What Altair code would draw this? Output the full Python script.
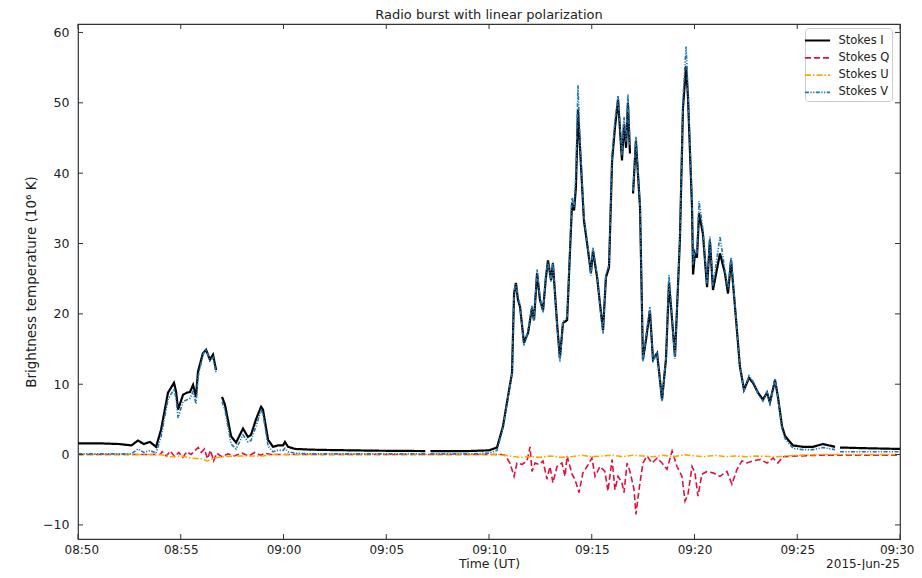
import altair as alt
import pandas as pd

# ---- data (minutes after 08:50 UT, brightness temperature in 10^6 K) ----
t_iv = [0.0, 1.0, 2.0, 2.6, 2.92, 3.2, 3.5, 3.8, 4.04, 4.2, 4.38, 4.67, 4.77, 4.87,
        5.11, 5.30, 5.45, 5.60, 5.74, 5.84, 6.08, 6.23, 6.42, 6.57, 6.72, 6.85,
        7.01, 7.15, 7.45, 7.69, 8.03, 8.27, 8.42, 8.66, 8.91, 9.00, 9.25, 9.49,
        9.73, 9.98, 10.07, 10.22, 10.56, 11.34, 12.17, 14.5, 16.9, 17.0, 17.15,
        19.0, 20.0, 20.39, 20.68, 20.92, 21.12, 21.22, 21.31, 21.41, 21.51, 21.70,
        21.90, 22.09, 22.19, 22.34, 22.48, 22.63, 22.77, 22.87, 23.02, 23.11, 23.31,
        23.45, 23.60, 23.80, 24.04, 24.14, 24.23, 24.33, 24.43, 24.62, 24.82, 24.96,
        25.06, 25.26, 25.45, 25.55, 25.69, 25.84, 25.99, 26.13, 26.28, 26.47, 26.57,
        26.67, 26.76, 26.86, 26.95, 27.01, 27.15, 27.35, 27.49, 27.64, 27.83, 27.98,
        28.18, 28.42, 28.61, 28.76, 28.91, 29.05, 29.29, 29.44, 29.59, 29.68, 29.88,
        29.93, 30.02, 30.12, 30.22, 30.41, 30.61, 30.75, 30.90, 31.24, 31.48, 31.63,
        31.78, 31.97, 32.21, 32.41, 32.65, 32.85, 33.09, 33.33, 33.53, 33.67, 33.92,
        34.06, 34.26, 34.40, 34.55, 34.79, 35.28, 35.77, 36.25, 36.84, 36.95, 37.08,
        38.39, 40.0]

stokes_i = [1.6, 1.6, 1.5, 1.3, 2.0, 1.5, 1.8, 1.1, 3.5, 6.0, 8.8, 10.2, 9.0, 6.4,
            8.5, 8.8, 8.9, 9.9, 8.2, 11.8, 14.4, 14.9, 13.5, 14.2, 12.0, None,
            8.2, 7.1, 2.6, 1.7, 3.7, 2.5, 2.8, 5.0, 6.8, 6.4, 2.1, 1.1,
            1.3, 1.3, 1.8, 1.1, 0.8, 0.7, 0.65, 0.55, 0.5, None, 0.5,
            0.5, 0.6, 1.0, 4.0, 8.2, 11.6, 22.9, 24.4, 22.0, 21.0, 15.9,
            17.3, 20.8, 19.1, 25.8, 22.0, 20.5, 25.2, 27.6, 24.8, 27.2, 18.7,
            13.7, 18.7, 19.1, 35.7, 34.7, 38.0, 49.0, 43.6, 33.3, 29.0, 25.8,
            29.0, 25.2, 20.1, 17.7, 25.2, 26.6, 41.8, 46.5, 50.5, 41.8, 47.0,
            43.6, 50.0, 42.8, None, 37.1, 44.6, 35.1, 13.5, 16.3, 20.5, 13.5,
            14.4, 7.8, 13.5, 24.5, 19.1, 13.9, 30.5, 49.3, 55.2, 51.0, 35.1,
            25.6, 28.6, 28.0, 34.3, 31.4, 23.8, 30.5, 23.4, 28.6, 25.8, 22.9,
            27.6, 21.0, 12.5, 9.2, 10.9, 10.2, 8.8, 7.8, 8.8, 7.4, 10.6,
            8.2, 4.0, 2.7, 2.1, 1.3, 1.1, 1.1, 1.5, 1.1, None, 1.0,
            0.9, 0.8]

stokes_v = [0.1, 0.1, 0.1, 0.1, 0.8, 0.3, 0.6, 0.2, 2.5, 5.0, 7.8, 9.3, 8.0, 5.2,
            7.5, 7.8, 8.0, 9.0, 7.2, 11.0, 14.2, 15.0, 13.3, 13.8, 11.6, None,
            7.5, 6.3, 1.5, 0.8, 2.8, 1.8, 2.0, 4.0, 6.3, 5.8, 1.2, 0.4,
            0.6, 0.6, 0.9, 0.4, 0.2, 0.1, 0.1, 0.1, 0.1, None, 0.1,
            0.1, 0.2, 0.6, 3.8, 8.0, 11.5, 23.2, 24.2, 22.5, 21.2, 15.5,
            17.6, 21.2, 19.0, 26.3, 22.3, 20.2, 25.6, 27.4, 24.5, 27.4, 18.4,
            13.2, 18.9, 19.4, 36.5, 35.2, 40.0, 52.5, 44.5, 33.8, 29.3, 25.4,
            29.4, 25.5, 19.8, 17.2, 25.6, 27.0, 42.5, 47.5, 51.0, 42.5, 48.0,
            44.5, 51.2, 44.0, None, 37.5, 45.2, 35.5, 13.2, 16.8, 21.0, 13.2,
            14.6, 7.6, 13.8, 25.5, 19.4, 13.6, 31.0, 50.5, 58.0, 52.0, 36.0,
            27.0, 29.0, 28.5, 36.0, 32.0, 24.2, 31.0, 24.0, 31.0, 26.2, 23.5,
            28.0, 21.2, 12.6, 9.0, 11.2, 10.4, 8.6, 7.6, 8.9, 7.2, 10.8,
            8.0, 3.6, 2.3, 1.7, 0.9, 0.7, 0.7, 1.0, 0.7, None, 0.4,
            0.4, 0.4]

t_q = [0.0, 4.0, 4.1, 4.3, 4.5, 4.7, 4.9, 5.1, 5.3, 5.5, 5.7, 5.85, 6.0, 6.15,
       6.3, 6.45, 6.6, 6.75, 7.0, 7.3, 7.6, 8.0, 8.3, 8.6, 8.9, 9.1, 9.4, 12.0,
       20.0, 20.6, 20.78, 21.02, 21.22, 21.36, 21.61, 21.85, 22.00, 22.09, 22.24,
       22.43, 22.63, 22.82, 22.97, 23.11, 23.31, 23.55, 23.70, 23.80, 24.04,
       24.18, 24.38, 24.57, 24.77, 25.01, 25.16, 25.40, 25.64, 25.79, 25.99,
       26.13, 26.28, 26.47, 26.57, 26.72, 26.86, 27.06, 27.15, 27.30, 27.49,
       27.69, 27.93, 28.18, 28.42, 28.66, 28.91, 29.15, 29.39, 29.54, 29.68,
       29.88, 30.02, 30.17, 30.36, 30.61, 30.90, 31.24, 31.58, 31.82, 32.07,
       32.31, 32.55, 32.85, 33.19, 33.53, 33.82, 34.06, 34.3, 35.0, 36.0, 40.0]

stokes_q = [0.0, 0.0, 0.4, -0.2, 0.5, -0.3, 0.3, -0.4, 0.4, 0.0, 0.6, 1.0, 0.3, 0.8,
            -0.6, 0.6, -0.9, 0.2, -0.3, 0.1, -0.2, 0.2, -0.2, 0.3, -0.1, 0.2, 0.0, 0.0,
            0.0, 0.0, -0.1, -1.2, -3.1, -1.2, -1.4, -0.9, 1.1, -2.4, -1.2,
            -1.4, -0.9, -3.5, -1.7, -4.0, -1.7, -1.2, -3.1, -0.2, -2.8,
            -3.5, -5.4, -2.6, -1.7, -0.5, -3.1, -1.7, -2.4, -5.2, -0.7,
            -5.0, -3.1, -4.0, -5.4, -1.2, -2.4, -5.0, -8.5, -5.0, -1.2,
            -0.2, -1.2, -0.5, -1.2, -2.1, 0.5, -1.7, -3.1, -6.6, -5.7,
            -1.7, -2.6, -5.9, -2.8, -2.4, -2.6, -3.1, -2.4, -4.2, -2.1,
            -0.9, -1.2, -0.9, -0.7, -1.2, -0.5, -1.2, -0.3, -0.2, -0.1, -0.1]

t_u = [0.0, 4.0, 4.5, 5.0, 5.5, 6.0, 6.3, 6.6, 7.0, 8.0, 9.0, 9.5, 20.5, 21.0,
       21.5, 22.0, 22.5, 23.0, 23.5, 24.0, 24.5, 25.0, 25.5, 26.0, 26.5, 27.0,
       27.5, 28.0, 28.5, 29.0, 29.5, 30.0, 30.5, 31.0, 31.5, 32.0, 32.5, 33.0,
       34.0, 35.0, 36.0, 40.0]

stokes_u = [0.0, 0.0, -0.3, -0.2, -0.5, -0.6, -0.9, -0.5, -0.3, -0.2, -0.2, 0.0, 0.0, -0.2,
            -0.4, -0.3, -0.4, -0.2, -0.4, -0.3, -0.1, -0.3, -0.2, -0.1, -0.3, -0.1,
            -0.2, -0.3, -0.1, -0.3, 0.0, -0.2, -0.3, -0.1, -0.3, -0.2, -0.3, -0.2,
            -0.3, -0.1, 0.0, 0.0]

series_names = ["Stokes I", "Stokes Q", "Stokes U", "Stokes V"]
series_colors = ["#000000", "#dc143c", "#ffa500", "#1f77b4"]
series_dashes = [[1, 0], [6, 3], [6, 2, 1.5, 2], [4, 1.5, 1.2, 1.5, 1.2, 1.5]]
series_widths = [2.2, 1.6, 1.6, 1.6]

x_ticks = [0, 5, 10, 15, 20, 25, 30, 35, 40]
y_ticks = [-10, 0, 10, 20, 30, 40, 50, 60]

W, H = 822, 515
FONT = "DejaVu Sans"
FRAME = "#333333"
TXT = "#222222"

rows = []
for name, ts, vs in [("Stokes I", t_iv, stokes_i), ("Stokes Q", t_q, stokes_q),
                     ("Stokes U", t_u, stokes_u), ("Stokes V", t_iv, stokes_v)]:
    for t, v in zip(ts, vs):
        rows.append({"t": t, "val": v, "series": name})
df = pd.DataFrame(rows)

x_scale = alt.Scale(domain=[0, 40], nice=False, zero=False)
y_scale = alt.Scale(domain=[-12, 61.2], nice=False, zero=False)

x_axis = alt.Axis(values=x_ticks, title="Time (UT)", grid=False, ticks=False, tickSize=0,
                  domain=False, labelPadding=5, titlePadding=2, labelFlush=True,
                  labelFlushOffset=14, labelFontSize=12, titleFontSize=12.5,
                  labelExpr="timeFormat(datetime(2015, 5, 25, 8, 50 + datum.value), '%H:%M')")
y_axis = alt.Axis(values=y_ticks, title="Brightness temperature (10\u2076 K)", grid=False,
                  ticks=False, tickSize=0, domain=False, labelPadding=9, titlePadding=4,
                  labelFontSize=12.5, titleFontSize=13.5, labelFlush=False)

legend = alt.Legend(orient="none", legendX=727, legendY=4, title=None,
                    symbolType="M-1.45,0H1.45", symbolSize=300, symbolStrokeWidth=1.8,
                    labelFontSize=11.5, labelFont=FONT, labelColor=TXT, rowPadding=1.3,
                    padding=2.5, strokeColor="#cccccc", cornerRadius=3, fillColor="white",
                    labelOffset=11)

color_enc = alt.Color("series:N", scale=alt.Scale(domain=series_names, range=series_colors),
                      legend=legend)
dash_enc = alt.StrokeDash("series:N", scale=alt.Scale(domain=series_names, range=series_dashes),
                          legend=legend)

layers = []
for name, w in zip(series_names, series_widths):
    layers.append(
        alt.Chart(df).transform_filter(alt.datum.series == name)
        .mark_line(strokeWidth=w, clip=True)
        .encode(x=alt.X("t:Q", scale=x_scale, axis=x_axis),
                y=alt.Y("val:Q", scale=y_scale, axis=y_axis),
                color=color_enc, strokeDash=dash_enc, order="t:Q")
    )

xt = pd.DataFrame({"v": x_ticks})
yt = pd.DataFrame({"v": y_ticks})
tick_style = dict(color=FRAME, strokeWidth=1)
ticks_bottom = alt.Chart(xt).mark_rule(**tick_style).encode(
    x=alt.X("v:Q", scale=x_scale), y=alt.value(H), y2=alt.value(H - 5))
ticks_top = alt.Chart(xt).mark_rule(**tick_style).encode(
    x=alt.X("v:Q", scale=x_scale), y=alt.value(0), y2=alt.value(5))
ticks_left = alt.Chart(yt).mark_rule(**tick_style).encode(
    y=alt.Y("v:Q", scale=y_scale), x=alt.value(0), x2=alt.value(5))
ticks_right = alt.Chart(yt).mark_rule(**tick_style).encode(
    y=alt.Y("v:Q", scale=y_scale), x=alt.value(W - 5), x2=alt.value(W))

date_label = alt.Chart(pd.DataFrame({"txt": ["2015-Jun-25"]})).mark_text(
    align="right", baseline="middle", font=FONT, fontSize=12, color=TXT
).encode(x=alt.value(W), y=alt.value(H + 25), text="txt:N")

chart = alt.layer(*layers, ticks_bottom, ticks_top, ticks_left, ticks_right, date_label).properties(
    width=W, height=H,
    title=alt.TitleParams("Radio burst with linear polarization", font=FONT, fontSize=13,
                          fontWeight="normal", color=TXT, offset=2),
    autosize=alt.AutoSizeParams(type="none"),
    padding={"left": 70, "top": 16, "right": 14, "bottom": 31},
).configure(font=FONT).configure_view(stroke=FRAME, strokeWidth=1.2).configure_axis(
    labelFont=FONT, titleFont=FONT, labelColor=TXT, titleColor=TXT, titleFontWeight="normal"
)

chart.save("out.html", embed_options={"renderer": "svg", "actions": False})
